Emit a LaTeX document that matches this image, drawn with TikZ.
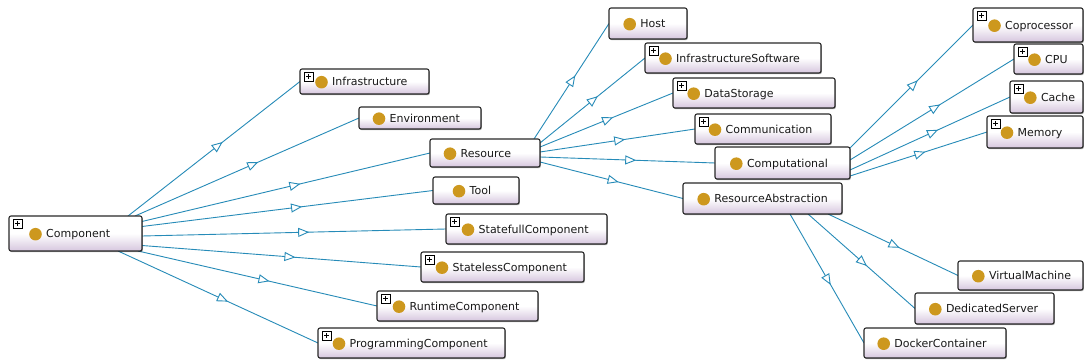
\documentclass[tikz,border=0pt]{standalone}
\usepackage{fontspec}
\setmainfont{DejaVu Sans}
\usetikzlibrary{arrows.meta,decorations.markings,shadows}

\definecolor{edgecol}{RGB}{38,139,184}
\definecolor{boxlav}{RGB}{214,198,222}
\definecolor{dotcol}{RGB}{205,152,30}
\definecolor{framecol}{RGB}{40,40,40}

\pgfdeclarelayer{bg}
\pgfdeclarelayer{edges}
\pgfsetlayers{bg,edges,main}

\tikzset{
  clsbox/.style={rectangle, rounded corners=2pt, draw=framecol, line width=1.1pt,
    top color=white, bottom color=boxlav, middle color=white,
    inner sep=0pt, outer sep=0pt,
    drop shadow={shadow xshift=0.8pt, shadow yshift=-1.2pt, opacity=0.35, fill=black}},
  clslabel/.style={anchor=base west, inner sep=0pt,
    font=\fontsize{11pt}{13pt}\selectfont, text=black!90},
  isa/.style={draw=edgecol, line width=0.9pt,
    decoration={markings, mark=at position 0.55 with
      {\arrow[edgecol, line width=0.9pt]{Triangle[fill=white, length=11pt, width=9pt]}}},
    postaction={decorate}},
  expander/.style={draw=black, fill=white, line width=0.7pt}
}

% \owlclass{name}{left}{top}{right}{bottom}{dot x}{label}{expandable 0/1}
\newcommand\owlclass[8]{%
  \node[clsbox, minimum width={(#4)-(#2)}, minimum height={(#5)-(#3)}]
    (#1) at ({((#2)+(#4))/2},{((#3)+(#5))/2}) {};
  \fill[dotcol] ({#6},{((#3)+(#5))/2+0.7}) circle[radius=6.3pt];
  \node[clslabel] at ({#6+10.5},{((#3)+(#5))/2+4.3}) {#7};
  \ifnum#8=1
    \draw[expander] ({#2+4},{#3+3}) rectangle ++(9,9);
    \draw[line width=0.7pt] ({#2+8.5},{#3+5}) -- ++(0,5) ({#2+6},{#3+7.5}) -- ++(5,0);
  \fi
}

\begin{document}
\begin{tikzpicture}[x=1pt, y=-1pt]
\useasboundingbox (0,0) rectangle (1084,363);
\begin{pgfonlayer}{bg}
  \fill[white] (0,0) rectangle (1084,363);
\end{pgfonlayer}

% classes
\owlclass{Component}{9}{216}{142}{251}{35.5}{Component}{1}
\owlclass{Infrastructure}{300}{69}{429}{94}{321.5}{Infrastructure}{1}
\owlclass{Environment}{359}{107}{481}{129}{379}{Environment}{0}
\owlclass{Resource}{430}{139}{540}{167}{450}{Resource}{0}
\owlclass{Tool}{433}{177}{519}{204}{459}{Tool}{0}
\owlclass{StatefullComponent}{446}{214}{607}{244}{468}{StatefullComponent}{1}
\owlclass{StatelessComponent}{421}{252}{584}{282}{442}{StatelessComponent}{1}
\owlclass{RuntimeComponent}{377}{291}{538}{321}{399}{RuntimeComponent}{1}
\owlclass{ProgrammingComponent}{318}{328}{505}{358}{339}{ProgrammingComponent}{1}
\owlclass{Host}{609}{8}{687}{39}{629.7}{Host}{0}
\owlclass{InfrastructureSoftware}{645}{43}{821}{73}{665.5}{InfrastructureSoftware}{1}
\owlclass{DataStorage}{673}{78}{835}{108}{693.7}{DataStorage}{1}
\owlclass{Communication}{695}{114}{831}{144}{715}{Communication}{1}
\owlclass{Computational}{715}{147}{850}{179}{736.3}{Computational}{0}
\owlclass{ResourceAbstraction}{683}{183}{842}{214}{703.7}{ResourceAbstraction}{0}
\owlclass{Coprocessor}{973}{8}{1083}{42}{994.5}{Coprocessor}{1}
\owlclass{CPU}{1014}{44}{1083}{74}{1034.5}{CPU}{1}
\owlclass{Cache}{1010}{81}{1083}{113}{1030.3}{Cache}{1}
\owlclass{Memory}{987}{116}{1083}{148}{1007}{Memory}{1}
\owlclass{VirtualMachine}{958}{261}{1083}{290}{978.3}{VirtualMachine}{0}
\owlclass{DedicatedServer}{915}{293}{1054}{324}{935.3}{DedicatedServer}{0}
\owlclass{DockerContainer}{864}{328}{1006}{358}{883.7}{DockerContainer}{0}

% subclass links
\begin{pgfonlayer}{edges}
\draw[isa] ([xshift=-14pt]Component.north east) -- (Infrastructure.west);
\draw[isa] ([xshift=-7pt]Component.north east) -- (Environment.west);
\draw[isa] ([yshift=12pt]Component.east) -- (Resource.west);
\draw[isa] ([yshift=7pt]Component.east) -- (Tool.west);
\draw[isa] ([yshift=-2.5pt]Component.east) -- (StatefullComponent.west);
\draw[isa] ([yshift=-12pt]Component.east) -- (StatelessComponent.west);
\draw[isa] ([xshift=-4pt]Component.south east) -- (RuntimeComponent.west);
\draw[isa] ([xshift=-24pt]Component.south east) -- (ProgrammingComponent.west);

\draw[isa] ([xshift=-6pt]Resource.north east) -- (Host.west);
\draw[isa] ([yshift=10pt]Resource.east) -- (InfrastructureSoftware.west);
\draw[isa] ([yshift=6pt]Resource.east) -- (DataStorage.west);
\draw[isa] ([yshift=1pt]Resource.east) -- (Communication.west);
\draw[isa] ([yshift=-4pt]Resource.east) -- (Computational.west);
\draw[isa] ([yshift=-9pt]Resource.east) -- (ResourceAbstraction.west);

\draw[isa] ([yshift=15pt]Computational.east) -- (Coprocessor.west);
\draw[isa] ([yshift=3pt]Computational.east) -- (CPU.west);
\draw[isa] ([yshift=-7pt]Computational.east) -- (Cache.west);
\draw[isa] ([yshift=-13pt]Computational.east) -- (Memory.west);

\draw[isa] ([xshift=-14pt]ResourceAbstraction.south east) -- (VirtualMachine.west);
\draw[isa] ([xshift=-34pt]ResourceAbstraction.south east) -- (DedicatedServer.west);
\draw[isa] ([xshift=-52pt]ResourceAbstraction.south east) -- (DockerContainer.west);
\end{pgfonlayer}
\end{tikzpicture}
\end{document}
